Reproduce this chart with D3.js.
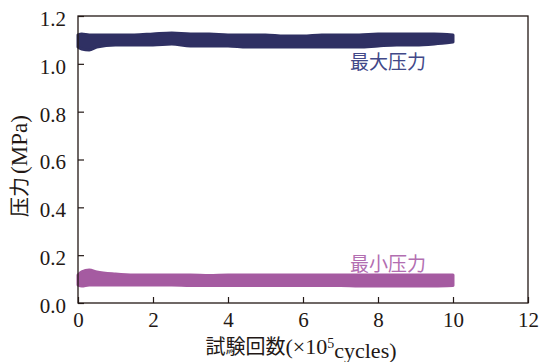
<!DOCTYPE html>
<html>
<head>
<meta charset="utf-8">
<script src="https://cdn.jsdelivr.net/npm/d3@7"></script>
<style>
  html, body { margin: 0; padding: 0; background: #fff; }
  svg { display: block; }
</style>
</head>
<body>
<svg id="chart" width="539" height="362"></svg>
<script>
// Test cycles (×10^5) at which the pressure envelope was sampled
const cycles = [0, 0.1, 0.3, 0.5, 1, 1.5, 2, 2.5, 3, 3.5, 4, 4.5, 5, 5.5, 6, 6.5, 7, 7.5, 8, 8.5, 9, 9.5, 10];

// Maximum pressure: upper and lower edge of the recorded scatter (MPa)
const maxUpper = [1.121, 1.125, 1.121, 1.121, 1.121, 1.121, 1.125, 1.129, 1.125, 1.125, 1.121, 1.121, 1.121, 1.116, 1.116, 1.121, 1.121, 1.121, 1.125, 1.125, 1.125, 1.125, 1.121];
const maxLower = [1.070, 1.062, 1.058, 1.070, 1.079, 1.079, 1.079, 1.083, 1.075, 1.075, 1.075, 1.070, 1.070, 1.070, 1.070, 1.070, 1.070, 1.070, 1.075, 1.079, 1.079, 1.083, 1.091];

// Minimum pressure: upper and lower edge of the recorded scatter (MPa)
const minUpper = [0.117, 0.130, 0.138, 0.130, 0.121, 0.117, 0.117, 0.117, 0.117, 0.115, 0.117, 0.117, 0.117, 0.117, 0.117, 0.117, 0.117, 0.117, 0.117, 0.117, 0.117, 0.117, 0.117];
const minLower = [0.075, 0.071, 0.075, 0.075, 0.075, 0.075, 0.075, 0.075, 0.073, 0.073, 0.073, 0.073, 0.073, 0.073, 0.073, 0.073, 0.073, 0.071, 0.071, 0.071, 0.071, 0.071, 0.073];

const xTicks = [0, 2, 4, 6, 8, 10, 12];
const yTicks = [0, 0.2, 0.4, 0.6, 0.8, 1.0, 1.2];

const seriesLabels = ["最大压力", "最小压力"];
const xTitle = ["試験回数", "(×10", "5", "cycles)"];
const yTitle = ["压力", "(MPa)"];

const W = 539, H = 362;
const margin = { left: 78, right: 11, top: 16, bottom: 59 };
const iw = W - margin.left - margin.right;
const ih = H - margin.top - margin.bottom;

const axisColor = "#231815";
const maxColor = "#2f3063";
const minColor = "#a55ba1";
const serif = "'Liberation Serif', 'Times New Roman', 'Noto Sans CJK JP', serif";
const cjk = "'Noto Sans CJK JP', 'Noto Sans CJK SC', sans-serif";

const svg = d3.select("#chart");
const g = svg.append("g").attr("transform", `translate(${margin.left},${margin.top})`);

const x = d3.scaleLinear().domain([0, 12]).range([0, iw]);
const y = d3.scaleLinear().domain([0, 1.2]).range([ih, 0]);

// Pressure bands
const rows = cycles.map((c, i) => ({ c, maxHi: maxUpper[i], maxLo: maxLower[i], minHi: minUpper[i], minLo: minLower[i] }));

const bandMax = d3.area().x(d => x(d.c)).y0(d => y(d.maxLo)).y1(d => y(d.maxHi)).curve(d3.curveMonotoneX);
const bandMin = d3.area().x(d => x(d.c)).y0(d => y(d.minLo)).y1(d => y(d.minHi)).curve(d3.curveMonotoneX);

g.append("path").datum(rows).attr("d", bandMax)
  .attr("fill", maxColor).attr("stroke", maxColor).attr("stroke-width", 3)
  .attr("stroke-linejoin", "round");
g.append("path").datum(rows).attr("d", bandMin)
  .attr("fill", minColor).attr("stroke", minColor).attr("stroke-width", 3)
  .attr("stroke-linejoin", "round");

// Frame
g.append("rect").attr("x", 0).attr("y", 0).attr("width", iw).attr("height", ih)
  .attr("fill", "none").attr("stroke", axisColor).attr("stroke-width", 1.3);

// Axes with inward ticks
const xAxis = g.append("g").attr("transform", `translate(0,${ih})`)
  .call(d3.axisBottom(x).tickValues(xTicks).tickFormat(d3.format("d"))
    .tickSizeInner(-6).tickSizeOuter(0).tickPadding(8));
const yAxis = g.append("g")
  .call(d3.axisLeft(y).tickValues(yTicks).tickFormat(d3.format(".1f"))
    .tickSizeInner(-6).tickSizeOuter(0).tickPadding(12));

[xAxis, yAxis].forEach(a => {
  a.attr("font-family", serif);
  a.select(".domain").remove();
  a.selectAll("line").attr("stroke", axisColor).attr("stroke-width", 1.2);
  a.selectAll("text").attr("fill", axisColor).style("font-family", serif).style("font-size", "21px");
});
xAxis.selectAll("text").attr("dy", "0.75em");
yAxis.selectAll("text").attr("dy", "0.45em");

// Series labels
g.append("text").attr("x", x(7.25)).attr("y", y(0.98))
  .attr("fill", "#414888").style("font-family", cjk).style("font-size", "19px")
  .text(seriesLabels[0]);
g.append("text").attr("x", x(7.25)).attr("y", y(0.133))
  .attr("fill", "#b26eb1").style("font-family", cjk).style("font-size", "19px")
  .text(seriesLabels[1]);

// Axis titles
const xt = svg.append("text").attr("x", 301).attr("y", 354)
  .attr("text-anchor", "middle").attr("fill", axisColor)
  .style("font-family", serif).style("font-size", "22px");
xt.append("tspan").style("font-family", cjk).style("font-size", "20px").text(xTitle[0]);
xt.append("tspan").text(xTitle[1]);
xt.append("tspan").attr("dy", "-0.45em").style("font-size", "14px").text(xTitle[2]);
xt.append("tspan").attr("dy", "0.45em").text(xTitle[3]);

const yt = svg.append("text").attr("transform", `translate(27,166) rotate(-90)`)
  .attr("text-anchor", "middle").attr("fill", axisColor)
  .style("font-family", serif).style("font-size", "23px");
yt.append("tspan").style("font-family", cjk).style("font-size", "20px").text(yTitle[0]);
yt.append("tspan").attr("dx", 3).text(yTitle[1]);
</script>
</body>
</html>
